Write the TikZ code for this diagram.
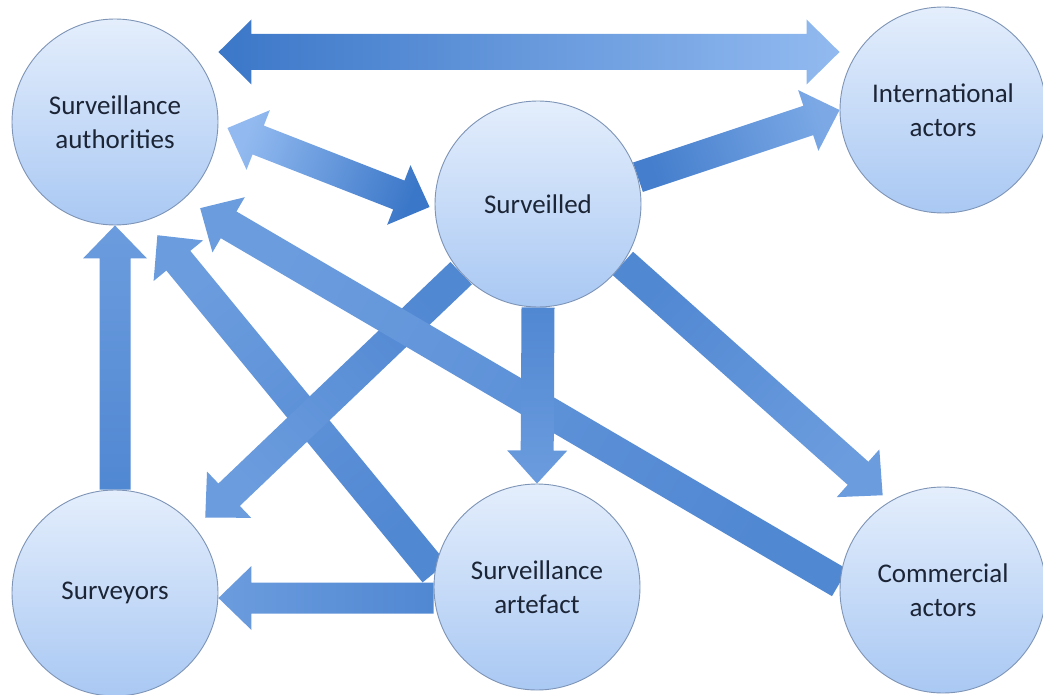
\documentclass[tikz,border=0pt]{standalone}
\usepackage{fontspec}
\setmainfont{Carlito}
\usepackage{tikz}
\usetikzlibrary{calc}
\usetikzlibrary{backgrounds}
\definecolor{arrowdark}{HTML}{3B77C8}
\definecolor{arrowlight}{HTML}{92BAF0}
\definecolor{circtop}{HTML}{E4EEFC}
\definecolor{circbot}{HTML}{A9C8F3}
\definecolor{circline}{HTML}{7D94B6}
\definecolor{labeltext}{HTML}{1C2536}

\def\shaftw{15.5pt}
\def\headw{32pt}
\def\headlen{33pt}

\newcommand\fatarrow[3][]{%
  \coordinate (fa-s) at (#2);
  \coordinate (fa-e) at (#3);
  \coordinate (fa-h) at ($(fa-e)!\headlen!(fa-s)$);
  \shade[fatshade,#1]
    ($(fa-s)!\shaftw!90:(fa-e)$) -- ($(fa-h)!\shaftw!90:(fa-e)$)
    -- ($(fa-h)!\headw!90:(fa-e)$) -- (fa-e)
    -- ($(fa-h)!\headw!-90:(fa-e)$) -- ($(fa-h)!\shaftw!-90:(fa-e)$)
    -- ($(fa-s)!\shaftw!-90:(fa-e)$) -- cycle;
}
\newcommand\fatdarrow[3][]{%
  \coordinate (fa-s) at (#2);
  \coordinate (fa-e) at (#3);
  \coordinate (fa-h) at ($(fa-e)!\headlen!(fa-s)$);
  \coordinate (fa-t) at ($(fa-s)!\headlen!(fa-e)$);
  \shade[fatshade,#1]
    (fa-s) -- ($(fa-t)!\headw!90:(fa-e)$) -- ($(fa-t)!\shaftw!90:(fa-e)$)
    -- ($(fa-h)!\shaftw!90:(fa-e)$) -- ($(fa-h)!\headw!90:(fa-e)$) -- (fa-e)
    -- ($(fa-h)!\headw!-90:(fa-e)$) -- ($(fa-h)!\shaftw!-90:(fa-e)$)
    -- ($(fa-t)!\shaftw!-90:(fa-e)$) -- ($(fa-t)!\headw!-90:(fa-e)$) -- cycle;
}

\begin{document}
\begin{tikzpicture}[x=1pt, y=-1pt,
    actor/.style={circle, draw=circline, line width=0.9pt, top color=circtop, bottom color=circbot,
      minimum size=206pt, inner sep=0pt, align=center, text=labeltext,
      font=\fontsize{27}{34}\selectfont},
    fatshade/.style={left color=arrowdark!75!arrowlight, right color=arrowdark!45!arrowlight},
    shaftw/.code={\def\shaftw{#1}},
    headw/.code={\def\headw{#1}},
    headlen/.code={\def\headlen{#1}}]
  \useasboundingbox (0,0) rectangle (1043,695);

  \node[actor] (auth) at (115,122) {Surveillance\\authorities};
  \node[actor] (intl) at (943,110) {International\\actors};
  \node[actor] (surv) at (538,204) {Surveilled};
  \node[actor] (svyr) at (115,593) {Surveyors};
  \node[actor] (artf) at (537,587) {Surveillance\\artefact};
  \node[actor] (comm) at (943,590) {Commercial\\actors};

  \begin{scope}[on background layer]
    \fatdarrow[shaftw=18pt, headw=32.5pt, headlen=34pt, left color=arrowdark, right color=arrowlight, shading angle=90]{[yshift=70pt]auth.east}{[yshift=58pt]intl.west}
    \fatdarrow[left color=arrowlight, right color=arrowdark, shading angle=69]{[xshift=9pt,yshift=-6pt]auth.east}{[xshift=-5pt,yshift=-3pt]surv.west}
    \fatarrow[left color=arrowdark!90!arrowlight, right color=arrowlight!75!arrowdark, shading angle=108]{surv.15}{intl.180}
    \fatarrow[shading angle=219]{artf.172}{[xshift=7pt,yshift=-16pt]auth.-70}
    \fatarrow[shading angle=-46]{surv.222}{[xshift=11pt,yshift=9pt]svyr.40}
    \fatarrow[shading angle=240]{comm.176}{[xshift=12pt,yshift=-13pt]auth.-45}
    \fatarrow[shading angle=48]{surv.-35}{[xshift=-4pt,yshift=8pt]comm.123}
    \fatarrow[shading angle=270]{[yshift=-11pt]artf.west}{[yshift=-5pt]svyr.east}
    \fatarrow[headlen=31pt, shading angle=180]{svyr.north}{auth.south}
    \fatarrow[headw=30pt, headlen=30pt, shaftw=16.5pt, shading angle=0]{surv.south}{artf.north}
  \end{scope}
\end{tikzpicture}
\end{document}
